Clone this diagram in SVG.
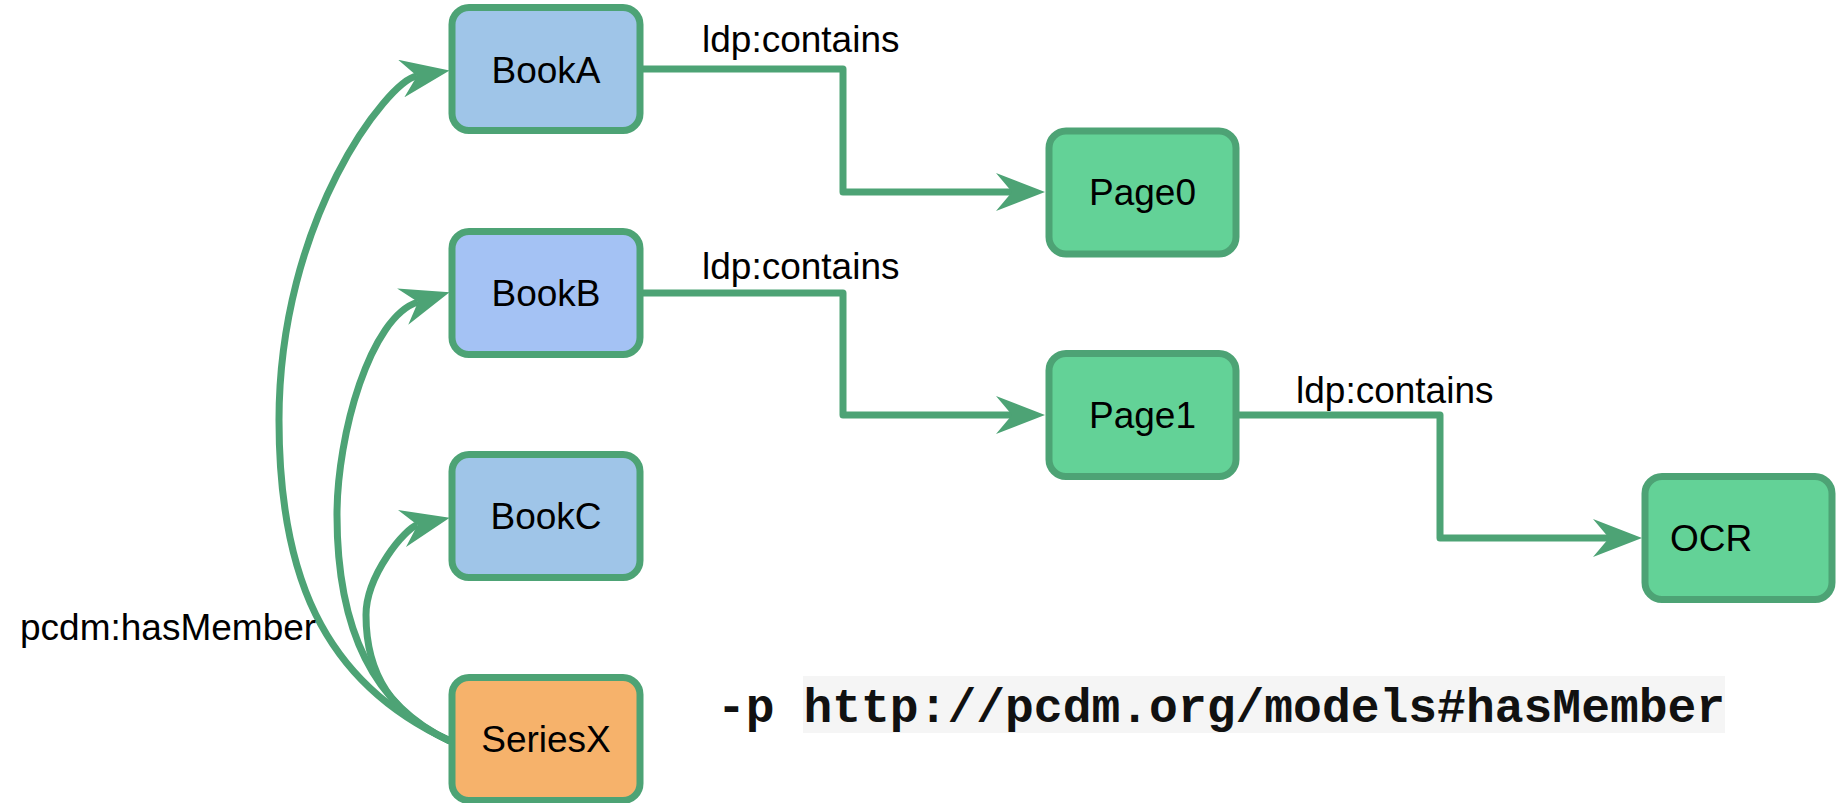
<svg xmlns="http://www.w3.org/2000/svg" width="1843" height="803" viewBox="0 0 1843 803">
  <style>
    .node rect { stroke: #4da375; stroke-width: 7; }
    .lbl { font-family: "Liberation Sans", Arial, sans-serif; font-size: 37px; fill: #000; }
    .ctr { text-anchor: middle; }
    .edge { fill: none; stroke: #4da375; stroke-width: 7; stroke-linejoin: round; }
    .code { font-family: "Liberation Mono", "Courier New", monospace; font-size: 48px; font-weight: bold; fill: #111; }
  </style>
  <defs>
    <!-- notched arrowhead, anchored at its notch -->
    <marker id="arrow" viewBox="0 -19 49 38" refX="16" refY="0" markerWidth="49" markerHeight="38" markerUnits="userSpaceOnUse" orient="auto">
      <path d="M0,-19 L49,0 L0,19 L16,0 Z" fill="#4da375"/>
    </marker>
  </defs>

  <rect x="0" y="0" width="1843" height="803" fill="#ffffff"/>

  <g id="connectors">
    <!-- ldp:contains links -->
    <path class="edge" d="M640,69 H843 V192 H1012" marker-end="url(#arrow)"/>
    <path class="edge" d="M640,293 H843 V415 H1012" marker-end="url(#arrow)"/>
    <path class="edge" d="M1236,415 H1440 V538 H1609" marker-end="url(#arrow)"/>
    <!-- pcdm:hasMember links from SeriesX -->
    <path class="edge" d="M450,741 C319.6,681.2 279,570 279,420 C279,220 387.4,80.9 417,76" marker-end="url(#arrow)"/>
    <path class="edge" d="M450,741 C365,702 337,615 337,515 C337,435 370.2,316.6 418,302" marker-end="url(#arrow)"/>
    <path class="edge" d="M450,741 C392.4,714.8 366,675 366,615 C366,575 405.8,527.6 417.5,525" marker-end="url(#arrow)"/>
    <text class="lbl" x="702" y="52">ldp:contains</text>
    <text class="lbl" x="702" y="279">ldp:contains</text>
    <text class="lbl" x="1296" y="403">ldp:contains</text>
    <text class="lbl" x="20" y="640">pcdm:hasMember</text>
  </g>

  <g id="BookA" class="node">
    <rect x="452" y="7.5" width="188" height="123" rx="17" fill="#9fc5e8"/>
    <text class="lbl ctr" x="546" y="83">BookA</text>
  </g>
  <g id="BookB" class="node">
    <rect x="452" y="231.5" width="188" height="123" rx="17" fill="#a4c2f4"/>
    <text class="lbl ctr" x="546" y="306">BookB</text>
  </g>
  <g id="BookC" class="node">
    <rect x="452" y="454.5" width="188" height="123" rx="17" fill="#9fc5e8"/>
    <text class="lbl ctr" x="546" y="529">BookC</text>
  </g>
  <g id="SeriesX" class="node">
    <rect x="452" y="677.5" width="188" height="123" rx="17" fill="#f6b26b"/>
    <text class="lbl ctr" x="546" y="752">SeriesX</text>
  </g>
  <g id="Page0" class="node">
    <rect x="1049" y="131" width="187" height="123" rx="17" fill="#63d297"/>
    <text class="lbl ctr" x="1142.5" y="205">Page0</text>
  </g>
  <g id="Page1" class="node">
    <rect x="1049" y="353.5" width="187" height="123" rx="17" fill="#63d297"/>
    <text class="lbl ctr" x="1142.5" y="428">Page1</text>
  </g>
  <g id="OCR" class="node">
    <rect x="1645" y="476.5" width="187" height="123" rx="17" fill="#63d297"/>
    <text class="lbl" x="1670" y="551">OCR</text>
  </g>

  <g id="command">
    <rect x="803" y="676" width="922" height="57" fill="#f5f5f5"/>
    <text class="code" x="717" y="722">-p http://pcdm.org/models#hasMember</text>
  </g>
</svg>
